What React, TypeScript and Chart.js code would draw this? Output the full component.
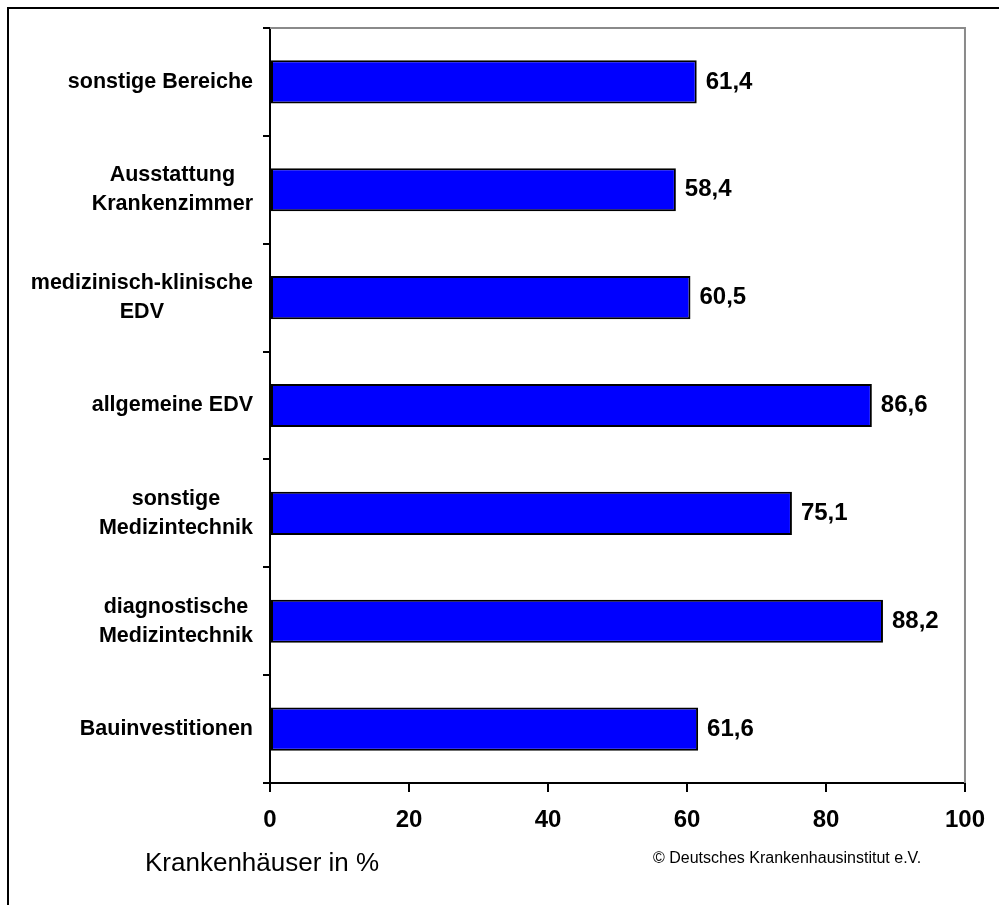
import React, { useEffect, useRef } from "react";
import { Chart, registerables } from "chart.js";

Chart.register(...registerables);

const categories: string[][] = [
  ["sonstige Bereiche"],
  ["Ausstattung", "Krankenzimmer"],
  ["medizinisch-klinische", "EDV"],
  ["allgemeine EDV"],
  ["sonstige", "Medizintechnik"],
  ["diagnostische", "Medizintechnik"],
  ["Bauinvestitionen"],
];
const values: number[] = [61.4, 58.4, 60.5, 86.6, 75.1, 88.2, 61.6];
const xTicks: number[] = [0, 20, 40, 60, 80, 100];
const axisTitle = "Krankenhäuser in %";
const copyright = "© Deutsches Krankenhausinstitut e.V.";

const FONT = "'Liberation Sans', Arial, sans-serif";

const decoPlugin = {
  id: "deco",
  afterDraw(chart: any) {
    const ctx = chart.ctx;
    const area = chart.chartArea;
    const yScale = chart.scales.y;
    const xScale = chart.scales.x;
    ctx.save();
    // grey frame top and right
    ctx.strokeStyle = "#8a8a8a";
    ctx.lineWidth = 2;
    ctx.beginPath();
    ctx.moveTo(area.left, area.top);
    ctx.lineTo(area.right, area.top);
    ctx.lineTo(area.right, area.bottom);
    ctx.stroke();

    // category labels: block right aligned, lines centered
    ctx.fillStyle = "#000";
    ctx.font = `bold 21.5px ${FONT}`;
    ctx.textBaseline = "middle";
    ctx.textAlign = "center";
    const rightEdge = area.left - 17;
    const lh = 29;
    categories.forEach((lines, i) => {
      const yc = yScale.getPixelForValue(i);
      const w = Math.max(...lines.map((l) => ctx.measureText(l).width));
      const cx = rightEdge - w / 2;
      lines.forEach((l, j) => {
        ctx.fillText(l, cx, yc - ((lines.length - 1) * lh) / 2 + j * lh);
      });
    });

    // value labels
    ctx.font = `bold 24px ${FONT}`;
    ctx.textAlign = "left";
    values.forEach((v, i) => {
      const x = xScale.getPixelForValue(v) + 9;
      const y = yScale.getPixelForValue(i);
      ctx.fillText(v.toFixed(1).replace(".", ","), x, y);
    });
    ctx.restore();
  },
};

export default function App() {
  const ref = useRef<HTMLCanvasElement | null>(null);
  useEffect(() => {
    if (!ref.current) return;
    const chart = new Chart(ref.current, {
      type: "bar",
      data: {
        labels: categories.map((c) => c.join(" ")),
        datasets: [
          {
            data: values,
            backgroundColor: "#0000ff",
            borderColor: "#000000",
            borderWidth: 2,
            borderSkipped: false,
            barPercentage: 0.4,
            categoryPercentage: 1,
          },
        ],
      },
      options: {
        indexAxis: "y",
        responsive: false,
        animation: false,
        events: [],
        layout: { autoPadding: false, padding: { left: 263, top: 28, right: 30, bottom: 72 } },
        plugins: {
          legend: { display: false },
          tooltip: { enabled: false },
          title: { display: false },
        },
        scales: {
          x: {
            type: "linear",
            min: xTicks[0],
            max: xTicks[xTicks.length - 1],
            afterBuildTicks: (axis: any) => {
              axis.ticks = xTicks.map((v) => ({ value: v }));
            },
            afterFit: (axis: any) => {
              axis.height = 50;
            },
            ticks: {
              color: "#000",
              padding: 14,
              font: { family: FONT, size: 24, weight: "bold" },
            },
            grid: {
              drawOnChartArea: false,
              drawTicks: true,
              tickLength: 9,
              color: "#000",
              lineWidth: 2,
            },
            border: { display: true, color: "#000", width: 2 },
          },
          y: {
            type: "category",
            afterFit: (axis: any) => {
              axis.width = 7;
            },
            ticks: { display: false },
            grid: {
              drawOnChartArea: false,
              drawTicks: true,
              tickLength: 7,
              color: "#000",
              lineWidth: 2,
              offset: true,
            },
            border: { display: true, color: "#000", width: 2 },
          },
        },
      },
      plugins: [decoPlugin],
    });
    return () => chart.destroy();
  }, []);

  return (
    <div
      style={{
        position: "fixed",
        left: 0,
        top: 0,
        width: 999,
        height: 905,
        overflow: "hidden",
        background: "#fff",
      }}
    >
      <canvas ref={ref} width={999} height={905} style={{ position: "absolute", left: 0, top: 0 }} />
      <div
        style={{
          position: "absolute",
          left: 7,
          top: 7,
          width: 1100,
          height: 1100,
          borderLeft: "2px solid #000",
          borderTop: "2px solid #000",
          boxSizing: "border-box",
          pointerEvents: "none",
        }}
      />
      <div
        style={{
          position: "absolute",
          left: 145,
          top: 849,
          fontFamily: FONT,
          fontSize: 26,
          lineHeight: "26px",
          color: "#000",
          whiteSpace: "nowrap",
        }}
      >
        {axisTitle}
      </div>
      <div
        style={{
          position: "absolute",
          left: 653,
          top: 850,
          fontFamily: FONT,
          fontSize: 16,
          lineHeight: "16px",
          color: "#000",
          whiteSpace: "nowrap",
        }}
      >
        {copyright}
      </div>
    </div>
  );
}
